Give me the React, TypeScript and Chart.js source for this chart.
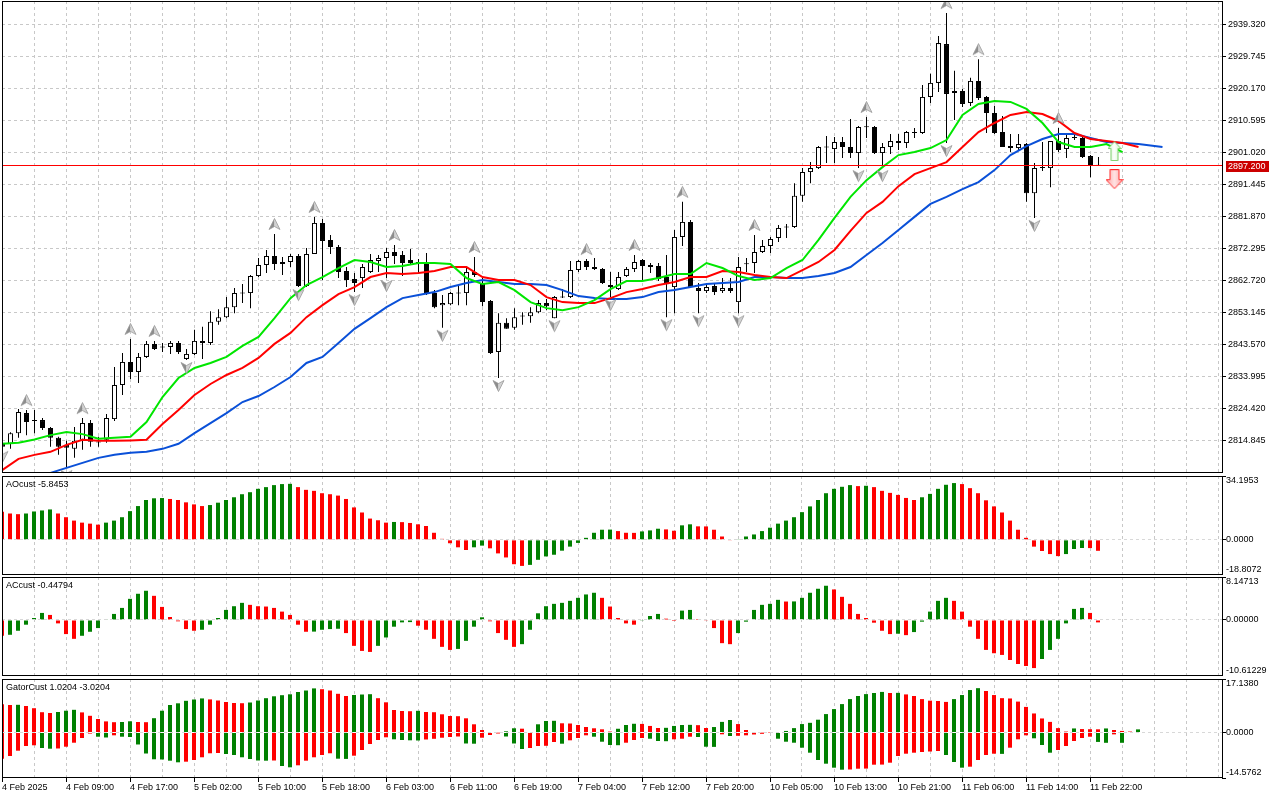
import React, { useEffect, useRef } from "react";
import { Chart, registerables } from "chart.js";

Chart.register(...registerables);

// ---------- price data (hourly bars, index 0 = 4 Feb 01:00) ----------
const openP = [
  2814.3, 2814.0, 2817.2, 2823.2, 2821.1, 2821.1, 2818.7, 2815.8, 2813.7, 2812.5,
  2815.2, 2820.2, 2814.6, 2815.2, 2821.4, 2831.6, 2838.5, 2835.5, 2840.0, 2843.9,
  2843.0, 2843.0, 2844.2, 2839.4, 2840.9, 2844.8, 2844.2, 2850.5, 2851.9, 2854.9,
  2859.1, 2859.1, 2864.2, 2867.5, 2870.2, 2867.8, 2868.4, 2870.2, 2861.2, 2870.8,
  2880.1, 2875.0, 2872.9, 2865.7, 2863.3, 2863.6, 2865.4, 2868.7, 2869.6, 2871.4,
  2870.5, 2869.0, 2868.4, 2867.8, 2859.1, 2855.5, 2855.8, 2859.1, 2859.1, 2865.4,
  2861.8, 2856.7, 2841.5, 2850.2, 2848.7, 2852.1, 2852.2, 2853.4, 2856.1, 2851.6,
  2857.9, 2857.9, 2866.0, 2868.7, 2866.9, 2866.3, 2861.5, 2860.3, 2864.2, 2866.3,
  2869.0, 2867.5, 2867.2, 2863.9, 2860.9, 2875.9, 2880.4, 2860.6, 2859.7, 2861.2,
  2859.7, 2860.6, 2856.4, 2867.7, 2868.1, 2871.4, 2873.2, 2875.6, 2878.7, 2878.9,
  2888.2, 2895.3, 2896.5, 2902.8, 2902.2, 2904.3, 2902.8, 2901.0, 2908.8, 2908.8,
  2901.0, 2902.8, 2904.6, 2904.0, 2907.0, 2907.0, 2917.8, 2922.0, 2933.6, 2919.0,
  2919.6, 2916.0, 2922.6, 2917.8, 2913.0, 2907.3, 2903.1, 2902.5, 2903.7, 2889.0,
  2896.8, 2896.5, 2904.6, 2902.2, 2905.8, 2905.5, 2900.1, 2897.4,
];
const highP = [
  2814.9, 2817.5, 2824.4, 2824.1, 2824.1, 2821.7, 2819.0, 2816.1, 2814.9, 2819.0,
  2821.7, 2821.1, 2816.1, 2822.9, 2837.0, 2841.2, 2845.4, 2841.2, 2844.8, 2844.8,
  2844.2, 2844.8, 2844.8, 2842.4, 2848.1, 2849.0, 2853.7, 2854.3, 2857.9, 2860.6,
  2861.8, 2864.5, 2869.6, 2872.0, 2876.8, 2869.9, 2870.8, 2870.8, 2872.6, 2881.9,
  2881.3, 2876.5, 2873.5, 2866.9, 2865.1, 2867.8, 2870.8, 2870.5, 2872.6, 2873.5,
  2871.7, 2872.3, 2869.3, 2871.1, 2860.0, 2858.5, 2859.4, 2861.5, 2866.9, 2869.9,
  2863.9, 2857.0, 2853.1, 2851.6, 2854.6, 2853.4, 2854.9, 2857.0, 2857.3, 2858.2,
  2860.3, 2868.7, 2869.0, 2869.3, 2869.6, 2866.6, 2865.4, 2865.4, 2866.9, 2870.5,
  2869.3, 2868.1, 2868.1, 2870.5, 2878.0, 2886.4, 2881.0, 2862.1, 2862.1, 2861.8,
  2863.6, 2863.6, 2869.9, 2869.6, 2876.5, 2875.0, 2875.9, 2879.5, 2879.8, 2892.0,
  2896.5, 2898.3, 2903.1, 2906.1, 2905.8, 2905.8, 2911.2, 2909.1, 2911.8, 2909.1,
  2904.0, 2906.7, 2906.7, 2907.6, 2908.5, 2921.4, 2924.7, 2936.0, 2942.9, 2925.6,
  2920.2, 2923.5, 2929.1, 2918.1, 2915.1, 2912.1, 2906.7, 2906.7, 2904.0, 2898.0,
  2904.3, 2904.6, 2908.5, 2906.4, 2907.3, 2905.8, 2900.4, 2899.8,
];
const lowP = [
  2812.5, 2812.5, 2815.8, 2816.6, 2817.2, 2818.1, 2813.1, 2810.7, 2806.8, 2809.8,
  2812.2, 2813.1, 2813.1, 2814.3, 2820.8, 2828.6, 2833.4, 2832.2, 2839.7, 2842.1,
  2841.5, 2840.9, 2840.9, 2839.1, 2840.6, 2839.4, 2843.6, 2849.6, 2851.6, 2853.1,
  2856.1, 2854.6, 2863.9, 2865.1, 2866.0, 2864.5, 2866.9, 2860.9, 2860.9, 2870.8,
  2863.0, 2870.8, 2863.6, 2860.9, 2859.4, 2860.6, 2865.1, 2865.4, 2863.6, 2867.8,
  2864.2, 2867.8, 2864.8, 2858.5, 2854.6, 2848.7, 2855.5, 2855.5, 2855.5, 2863.9,
  2855.2, 2840.9, 2833.7, 2848.4, 2848.1, 2849.6, 2850.2, 2853.1, 2854.0, 2851.6,
  2857.6, 2857.6, 2865.4, 2866.0, 2866.0, 2861.8, 2857.9, 2860.0, 2863.9, 2865.4,
  2863.0, 2865.1, 2862.7, 2851.9, 2853.1, 2873.2, 2860.6, 2853.1, 2859.1, 2858.5,
  2859.1, 2859.1, 2853.1, 2865.4, 2865.1, 2871.1, 2871.1, 2874.4, 2875.6, 2878.6,
  2886.4, 2892.0, 2896.2, 2898.0, 2898.0, 2899.5, 2899.5, 2896.5, 2905.5, 2900.7,
  2896.5, 2900.7, 2901.9, 2902.5, 2905.5, 2906.7, 2916.0, 2919.3, 2904.0, 2910.9,
  2914.8, 2915.1, 2916.9, 2907.0, 2906.7, 2902.8, 2901.3, 2901.9, 2886.4, 2881.6,
  2895.6, 2890.8, 2901.3, 2899.5, 2904.9, 2899.5, 2893.8, 2897.2,
];
const closeP = [
  2813.1, 2817.2, 2823.5, 2820.5, 2820.8, 2818.7, 2815.8, 2813.1, 2812.8, 2814.9,
  2820.2, 2814.6, 2814.4, 2821.7, 2831.6, 2838.5, 2835.5, 2840.0, 2843.9, 2842.4,
  2842.8, 2844.2, 2841.5, 2840.9, 2844.8, 2844.2, 2850.5, 2851.9, 2854.9, 2859.1,
  2859.0, 2864.2, 2867.5, 2870.2, 2867.8, 2868.4, 2870.2, 2861.2, 2870.8, 2880.1,
  2874.7, 2872.9, 2865.4, 2863.0, 2862.1, 2866.9, 2869.0, 2869.6, 2871.4, 2870.2,
  2868.1, 2868.1, 2867.8, 2858.8, 2854.9, 2856.1, 2859.1, 2859.0, 2865.4, 2864.5,
  2856.4, 2841.2, 2850.2, 2848.4, 2851.9, 2852.2, 2853.4, 2856.1, 2855.2, 2857.9,
  2857.8, 2866.0, 2868.7, 2866.9, 2866.3, 2862.1, 2860.9, 2863.9, 2866.3, 2868.4,
  2867.2, 2866.9, 2863.3, 2862.1, 2875.9, 2880.4, 2860.9, 2859.7, 2860.9, 2859.4,
  2860.6, 2859.7, 2866.9, 2867.8, 2871.4, 2873.2, 2875.3, 2878.6, 2878.9, 2888.2,
  2895.3, 2896.5, 2902.8, 2902.7, 2904.3, 2902.8, 2901.0, 2908.8, 2908.7, 2901.0,
  2902.8, 2904.6, 2904.0, 2907.3, 2907.3, 2917.8, 2922.0, 2933.9, 2918.7, 2919.6,
  2915.7, 2922.6, 2917.5, 2913.0, 2907.0, 2902.8, 2902.5, 2903.7, 2889.0, 2896.5,
  2896.5, 2904.6, 2901.9, 2905.5, 2905.5, 2899.8, 2897.1, 2897.2,
];

// ---------- Alligator lines (sampled every 2 bars) ----------
const lineStep = 2;
const lipsStart = 0;
const lipsP = [
  2814.0, 2814.3, 2815.3, 2816.6, 2817.5, 2816.9, 2815.5, 2815.8, 2816.1, 2820.5,
  2828.0, 2833.7, 2836.7, 2838.2, 2840.0, 2843.3, 2846.0, 2851.6, 2857.6, 2861.5,
  2863.9, 2866.6, 2869.0, 2868.4, 2866.9, 2867.2, 2868.1, 2868.1, 2867.8, 2863.6,
  2861.8, 2862.4, 2860.0, 2856.4, 2854.6, 2854.0, 2854.9, 2857.0, 2860.3, 2862.7,
  2862.7, 2863.6, 2864.8, 2864.8, 2868.1, 2866.6, 2864.2, 2863.0, 2863.6, 2866.6,
  2869.0, 2875.0, 2881.6, 2887.9, 2892.9, 2896.8, 2900.4, 2901.3, 2902.5, 2904.9,
  2912.4, 2915.7, 2916.6, 2916.3, 2914.2, 2910.0, 2904.3, 2902.8, 2902.8, 2903.7,
  2901.3,
];
const teethStart = 0;
const teethP = [
  2806.2, 2809.5, 2810.7, 2811.6, 2813.7, 2815.2, 2814.9, 2814.9, 2815.0, 2815.2,
  2819.9, 2824.1, 2828.6, 2831.9, 2834.6, 2836.7, 2839.7, 2843.9, 2847.2, 2851.9,
  2855.5, 2858.8, 2860.9, 2863.9, 2865.1, 2864.8, 2865.1, 2865.7, 2866.9, 2866.9,
  2863.9, 2863.0, 2863.0, 2861.5, 2857.9, 2856.4, 2856.1, 2856.1, 2857.6, 2859.4,
  2860.3, 2861.5, 2862.4, 2863.9, 2863.9, 2865.7, 2865.4, 2864.5, 2863.9, 2863.6,
  2866.0, 2868.4, 2872.0, 2877.7, 2883.1, 2886.4, 2891.1, 2894.7, 2896.5, 2898.3,
  2902.8, 2907.3, 2910.0, 2912.4, 2913.3, 2912.7, 2910.6, 2907.0, 2905.2, 2904.6,
  2904.0, 2902.8,
];
const jawStart = 4;
const jawP = [
  2803.8, 2805.3, 2806.8, 2808.3, 2809.8, 2810.7, 2811.3, 2811.6, 2812.5, 2814.0,
  2817.2, 2820.2, 2823.2, 2826.5, 2828.3, 2831.0, 2834.0, 2838.2, 2840.0, 2844.2,
  2848.4, 2851.6, 2854.9, 2857.6, 2858.5, 2859.4, 2860.9, 2862.1, 2863.0, 2862.4,
  2861.8, 2861.8, 2861.5, 2860.0, 2858.2, 2857.6, 2857.3, 2857.3, 2857.9, 2859.4,
  2860.0, 2860.9, 2861.8, 2862.1, 2862.4, 2863.9, 2863.9, 2863.6, 2863.6, 2864.2,
  2865.1, 2866.9, 2870.5, 2874.1, 2878.0, 2881.9, 2885.8, 2887.9, 2890.2, 2892.3,
  2895.9, 2900.4, 2903.1, 2905.2, 2906.7, 2906.7, 2905.5, 2904.3, 2904.0, 2903.7,
  2903.1,
];
const jawLastBar = 145;
const jawLast = 2902.8;

// ---------- fractals & signals ----------
const fractalUpBars = [3, 10, 16, 19, 34, 39, 49, 59, 73, 79, 85, 94, 108, 118, 122, 132];
const fractalDownBars = [0, 8, 23, 37, 44, 48, 55, 62, 69, 76, 83, 87, 92, 107, 110, 118, 129];
const signalBar = 139;
const signalUpPrice = 2901.6;
const signalDownPrice = 2893.2;
const bidPrice = 2897.2;
const bidText = "2897.200";

// ---------- axes ----------
const priceTicks = [
  2814.845, 2824.42, 2833.995, 2843.57, 2853.145, 2862.72, 2872.295,
  2881.87, 2891.445, 2901.02, 2910.595, 2920.17, 2929.745, 2939.32,
];
const priceMin = 2805.27;
const priceMax = 2946.5;
const timeLabels = [
  "4 Feb 2025", "4 Feb 09:00", "4 Feb 17:00", "5 Feb 02:00", "5 Feb 10:00", "5 Feb 18:00",
  "6 Feb 03:00", "6 Feb 11:00", "6 Feb 19:00", "7 Feb 04:00", "7 Feb 12:00", "7 Feb 20:00",
  "10 Feb 05:00", "10 Feb 13:00", "10 Feb 21:00", "11 Feb 06:00", "11 Feb 14:00", "11 Feb 22:00",
];
const timeLabelBars = [0, 8, 16, 24, 32, 40, 48, 56, 64, 72, 80, 88, 96, 104, 112, 120, 128, 136];

// ---------- AO ----------
const aoTitle = "AOcust -5.8453";
const aoScale = [-18.8072, 0, 34.1953];
const aoScaleLabels = ["-18.8072", "0.0000", "34.1953"];
const aoValues = [
  15.02, 14.12, 13.76, 14.12, 15.2, 15.75, 16.29, 14.12, 12.13, 10.32,
  9.23, 8.69, 8.15, 9.23, 10.32, 12.13, 15.39, 18.1, 21.36, 22.26,
  22.4, 21.9, 21.36, 20.09, 19.0, 18.1, 18.64, 19.91, 21.36, 22.81,
  24.44, 25.52, 27.33, 28.24, 29.32, 29.87, 30.0, 28.24, 26.79, 26.25,
  24.98, 24.44, 23.71, 21.9, 17.38, 14.66, 11.4, 10.5, 9.23, 9.59,
  9.5, 9.05, 8.33, 7.42, 3.8, 0.54, -1.81, -3.98, -5.43, -3.98,
  -3.08, -4.53, -7.24, -9.41, -13.03, -13.94, -13.39, -10.68, -8.87, -7.96,
  -5.79, -3.62, -1.63, 1.09, 3.8, 5.43, 5.5, 4.71, 3.8, 3.75,
  4.53, 5.07, 5.97, 5.61, 4.89, 7.78, 8.33, 7.24, 7.2, 5.43,
  1.81, -0.2, 0.36, 1.81, 2.9, 4.71, 6.52, 8.69, 10.32, 12.13,
  14.84, 17.92, 21.36, 24.98, 27.33, 28.42, 29.32, 28.78, 28.96, 28.24,
  26.25, 25.16, 24.07, 22.45, 21.36, 22.81, 24.62, 27.33, 29.5, 30.41,
  29.87, 27.69, 24.98, 21.18, 17.92, 14.66, 10.32, 5.43, 1.09, -3.62,
  -5.97, -7.6, -8.69, -7.6, -4.89, -4.34, -4.4, -5.85,
];
const aoColors =
  "rrrggggrrr" + "rrrggggggg" + "grrrrrgggg" + "gggggggrrr" + "rrrrrrrrrg" +
  "rrrrrrrrrg" + "grrrrrgggg" + "gggggggrrr" + "gggrrggrrr" + "rrgggggggg" +
  "gggggggrgr" + "rrrrrggggg" + "rrrrrrrrrr" + "rrrgggrr";

// ---------- AC ----------
const acTitle = "ACcust -0.44794";
const acScale = [-10.61229, 0, 8.14713];
const acScaleLabels = ["-10.61229", "0.00000", "8.14713"];
const acValues = [
  -2.99, -2.8, -2.04, -0.89, 0.38, 1.34, 0.96, -0.64, -2.67, -3.57,
  -2.99, -2.23, -1.53, 0.06, 1.15, 2.29, 4.01, 4.97, 5.54, 4.58,
  2.48, 0.57, -0.25, -1.72, -2.04, -1.85, -0.89, 0.38, 1.91, 2.61,
  3.25, 2.87, 2.61, 2.55, 2.29, 1.59, 0.96, -0.89, -2.23, -2.2,
  -1.85, -1.72, -1.66, -2.48, -4.9, -5.86, -6.05, -4.9, -3.31, -1.27,
  -0.45, -0.4, -1.08, -1.85, -3.57, -5.09, -5.67, -5.48, -3.95, -1.27,
  0.51, -0.25, -2.48, -3.76, -5.09, -4.58, -1.85, 1.27, 2.61, 3.06,
  3.25, 3.63, 4.2, 4.84, 5.16, 4.2, 2.55, 0.38, -0.64, -0.89,
  -0.13, 0.76, 1.15, 0.25, -0.19, 1.78, 1.91, 0.19, -0.13, -1.53,
  -4.39, -4.58, -2.48, -0.32, 1.91, 2.87, 3.06, 3.82, 3.5, 3.52,
  4.2, 5.16, 5.92, 6.49, 5.79, 4.39, 3.06, 1.15, 0.38, -0.51,
  -2.04, -2.67, -2.6, -2.87, -2.29, -0.32, 1.59, 3.63, 4.2, 3.63,
  1.59, -1.27, -3.57, -5.67, -6.3, -6.62, -7.58, -8.34, -8.72, -9.11,
  -7.39, -5.67, -3.57, -0.64, 2.1, 2.29, 1.34, -0.45,
];
const acColors =
  "rgggggrrrr" + "gggggggggr" + "rrrrrggggg" + "grrrrrrrrg" + "gggrrrrggg" +
  "ggrrrrrggg" + "grrrrggggg" + "gggggrrrrr" + "gggrrggrrr" + "rrggggggrg" +
  "ggggrrrrrr" + "rrgrgggggr" + "rrrrrrrrrr" + "ggggggrr";

// ---------- Gator ----------
const gatorTitle = "GatorCust 1.0204 -3.0204";
const gatorScale = [-14.5762, 0, 17.138];
const gatorScaleLabels = ["-14.5762", "0.0000", "17.1380"];
const gatorUpper = [
  9.06, 8.81, 8.87, 8.49, 7.78, 6.5, 6.25, 6.57, 6.98, 7.27,
  6.44, 5.35, 4.32, 3.56, 3.3, 3.36, 3.59, 3.36, 3.3, 4.58,
  6.98, 8.81, 9.35, 10.15, 10.57, 10.92, 10.6, 10.25, 9.77, 9.45,
  9.38, 9.61, 10.25, 10.99, 11.6, 11.95, 12.24, 12.97, 13.45, 14.13,
  13.87, 13.45, 12.4, 11.69, 12.01, 12.17, 12.27, 10.99, 9.67, 7.21,
  6.89, 6.82, 6.95, 6.57, 6.5, 5.83, 5.29, 5.22, 4.55, 2.63,
  0.8, 0.16, 0.06, 0.38, 1.35, 1.22, 0.16, 2.63, 3.68, 3.75,
  2.95, 2.88, 2.4, 1.76, 1.35, 1.02, 0.3, 1.2, 2.4, 2.8,
  2.75, 2.1, 1.45, 1.5, 2.1, 2.4, 2.45, 2.35, 1.45, 1.75,
  3.4, 4.0, 2.7, 0.8, 0.1, 0.05, 0.02, 0.0, 0.5, 1.4,
  2.7, 3.1, 4.1, 5.9, 7.5, 9.1, 10.7, 11.7, 12.3, 12.65,
  13.0, 12.65, 12.7, 12.2, 11.7, 10.7, 10.2, 10.1, 9.8, 10.7,
  12.0, 13.6, 14.2, 13.3, 12.0, 11.0, 10.9, 9.9, 8.2, 6.1,
  4.5, 3.4, 1.4, 0.3, 1.3, 1.1, 1.05, 1.02, 1.3, 0.8,
  0.5, 0.3, 1.0,
];
const gatorUpperColors =
  "rrgrrrrggg" + "rrrrrggrrg" + "ggggggrrrr" + "rggggggggg" + "rrrrgggrrr" +
  "rrgrrrrrrr" + "rrrggrrggg" + "rrrrrrrggg" + "rrrggggrrg" + "ggrrrrrrgg" +
  "gggggggggg" + "grgrrrrrrg" + "gggrrrrrrr" + "rrrrgrrrgr" + "rrg";
const gatorLower = [
  -8.39, -7.53, -5.83, -4.32, -4.1, -4.96, -5.19, -5.12, -4.55, -3.27,
  -1.76, -0.35, -1.35, -1.6, -0.9, -1.35, -1.44, -3.84, -6.73, -8.58,
  -8.65, -9.03, -9.55, -9.35, -8.81, -7.94, -6.66, -6.57, -6.89, -7.21,
  -7.94, -8.49, -8.97, -9.03, -8.97, -10.73, -11.15, -10.51, -9.03, -7.94,
  -7.21, -6.66, -8.39, -8.46, -7.43, -5.61, -3.68, -2.4, -1.54, -2.18,
  -2.4, -2.5, -2.56, -2.24, -2.02, -1.67, -1.44, -1.28, -3.52, -3.59,
  -1.67, -0.8, -0.32, -1.28, -3.52, -5.28, -4.96, -4.32, -4.26, -3.04,
  -3.59, -2.5, -1.76, -0.9, -1.35, -2.95, -4.0, -4.07, -3.27, -2.4,
  -1.76, -1.99, -2.72, -2.79, -2.18, -1.99, -1.35, -1.44, -4.55, -4.61,
  -0.58, -1.12, -1.06, -0.9, -0.64, -0.42, -0.16, -1.99, -2.95, -3.27,
  -4.87, -6.47, -8.81, -9.99, -11.27, -11.92, -11.85, -11.6, -11.56, -10.31,
  -10.28, -9.67, -7.53, -6.79, -6.47, -6.25, -6.09, -5.93, -7.21, -9.45,
  -11.27, -10.95, -8.81, -7.21, -6.79, -6.85, -4.87, -2.18, -0.9, -1.86,
  -4.0, -6.47, -5.61, -4.32, -2.72, -1.76, -1.35, -3.02, -3.3, -0.6,
  -3.3,
];
const gatorLowerColors =
  "rrrrrggrrr" + "rrggrggggg" + "gggrrrrrgg" + "ggggrggrrr" + "rrggrrrrrg" +
  "gggrrrrrgg" + "rrrgggrrrr" + "grrrggggrr" + "rgggrrrggg" + "rgrrrrrggg" +
  "ggggggrrrr" + "rrrrrrrrgg" + "grrrrgrrrg" + "ggrrrrrggr" + "g";

// ---------- style ----------
const FONT = '"Liberation Sans", Arial, sans-serif';
const FONT_SIZE = 9;
const AXIS_W = 58;
const PLOT_BARS = 152.5; // visible bar slots across the plot width
const GRID_STEP = 4;
const GRID_COLOR = "#c8c8c8";
const LEVEL_COLOR = "#d8d8d8";
const H_GREEN = "#008000";
const H_RED = "#ff0000";
const LIPS_COLOR = "#00e600";
const TEETH_COLOR = "#ff0000";
const JAW_COLOR = "#0a50d8";
const BID_COLOR = "#ff0000";
const BID_BOX = "#cc0000";

const hist = (s: string) => s.split("").map((c) => (c === "g" ? H_GREEN : H_RED));
const series = (vals: number[], start: number, step: number) =>
  vals.map((v, i) => ({ x: start + i * step, y: v }));

function fractalImage(up: boolean): HTMLCanvasElement {
  const c = document.createElement("canvas");
  c.width = 13;
  c.height = 40;
  const g = c.getContext("2d") as CanvasRenderingContext2D;
  g.translate(6.5, up ? 10 : 28);
  if (!up) g.scale(1, -1);
  g.beginPath();
  g.moveTo(0, -5.5);
  g.lineTo(5.5, 5.5);
  g.lineTo(0, 2.5);
  g.lineTo(-5.5, 5.5);
  g.closePath();
  g.save();
  g.clip();
  g.fillStyle = "#8c8c8c";
  g.fillRect(-6, -6, 6, 12);
  g.fillStyle = "#d2d2d2";
  g.fillRect(0, -6, 6, 12);
  g.restore();
  g.lineWidth = 0.8;
  g.strokeStyle = "#9a9a9a";
  g.stroke();
  return c;
}

function signalImage(up: boolean): HTMLCanvasElement {
  const c = document.createElement("canvas");
  const w = up ? 14 : 18;
  const h = 20;
  c.width = w;
  c.height = h;
  const g = c.getContext("2d") as CanvasRenderingContext2D;
  g.beginPath();
  if (up) {
    g.moveTo(7, 0.5);
    g.lineTo(13.5, 7.5);
    g.lineTo(10.5, 7.5);
    g.lineTo(10.5, 19.5);
    g.lineTo(3.5, 19.5);
    g.lineTo(3.5, 7.5);
    g.lineTo(0.5, 7.5);
    g.closePath();
    const gr = g.createLinearGradient(0, 0, w, 0);
    gr.addColorStop(0, "#d4f3cc");
    gr.addColorStop(0.5, "#ffffff");
    gr.addColorStop(1, "#c6efbd");
    g.fillStyle = gr;
    g.fill();
    g.strokeStyle = "#7ccf6c";
  } else {
    g.moveTo(4.5, 0.5);
    g.lineTo(13.5, 0.5);
    g.lineTo(13.5, 10.5);
    g.lineTo(17.5, 10.5);
    g.lineTo(9, 19.5);
    g.lineTo(0.5, 10.5);
    g.lineTo(4.5, 10.5);
    g.closePath();
    const gr = g.createLinearGradient(0, 0, w, 0);
    gr.addColorStop(0, "#ff9c9c");
    gr.addColorStop(0.5, "#ffe4e4");
    gr.addColorStop(1, "#ff9c9c");
    g.fillStyle = gr;
    g.fill();
    g.strokeStyle = "#ff2a2a";
  }
  g.lineWidth = 1;
  g.stroke();
  return c;
}

type Side = { value: number; text: string; edge: "top" | "mid" | "bottom" };
type PanelCfg = {
  hGrid: number[];
  levels?: number[];
  title?: string;
  side?: Side[];
  bid?: number;
  bidLabel?: string;
};

function clipArea(ctx: CanvasRenderingContext2D, a: any) {
  ctx.beginPath();
  ctx.rect(a.left, a.top, a.right - a.left, a.bottom - a.top);
  ctx.clip();
}

function panelPlugin(cfg: PanelCfg) {
  return {
    id: "mtPanel",
    beforeDatasetsDraw(chart: any) {
      const { ctx, chartArea: a } = chart;
      const xs = chart.scales.x;
      const ys = chart.scales.y;
      ctx.save();
      clipArea(ctx, a);
      ctx.lineWidth = 1;
      ctx.strokeStyle = GRID_COLOR;
      ctx.setLineDash([3, 3]);
      ctx.beginPath();
      for (let k = 0; k <= xs.max; k += GRID_STEP) {
        const px = Math.floor(xs.getPixelForValue(k)) + 0.5;
        ctx.moveTo(px, a.top);
        ctx.lineTo(px, a.bottom);
      }
      for (const v of cfg.hGrid) {
        const py = Math.floor(ys.getPixelForValue(v)) + 0.5;
        ctx.moveTo(a.left, py);
        ctx.lineTo(a.right, py);
      }
      ctx.stroke();
      ctx.restore();
    },
    afterDatasetsDraw(chart: any) {
      const { ctx, chartArea: a } = chart;
      const ys = chart.scales.y;
      ctx.save();
      clipArea(ctx, a);
      ctx.lineWidth = 1;
      if (cfg.levels && cfg.levels.length) {
        ctx.strokeStyle = LEVEL_COLOR;
        ctx.setLineDash([3, 3]);
        ctx.beginPath();
        for (const v of cfg.levels) {
          const py = Math.floor(ys.getPixelForValue(v)) + 0.5;
          ctx.moveTo(a.left, py);
          ctx.lineTo(a.right, py);
        }
        ctx.stroke();
      }
      if (cfg.bid !== undefined) {
        ctx.setLineDash([]);
        ctx.strokeStyle = BID_COLOR;
        const py = Math.floor(ys.getPixelForValue(cfg.bid)) + 0.5;
        ctx.beginPath();
        ctx.moveTo(a.left, py);
        ctx.lineTo(a.right, py);
        ctx.stroke();
      }
      ctx.restore();
      ctx.save();
      ctx.strokeStyle = "#000000";
      ctx.lineWidth = 1;
      ctx.setLineDash([]);
      ctx.strokeRect(a.left + 0.5, a.top + 0.5, a.right - a.left, a.bottom - a.top - 1);
      ctx.restore();
    },
    afterDraw(chart: any) {
      const { ctx, chartArea: a } = chart;
      const ys = chart.scales.y;
      ctx.save();
      ctx.font = `${FONT_SIZE}px ${FONT}`;
      ctx.fillStyle = "#000";
      ctx.textBaseline = "middle";
      ctx.textAlign = "left";
      if (cfg.title) ctx.fillText(cfg.title, a.left + 4, a.top + 9);
      if (cfg.side) {
        for (const s of cfg.side) {
          let y = ys.getPixelForValue(s.value);
          if (s.edge === "top") y = a.top + 5;
          if (s.edge === "bottom") y = a.bottom - 5;
          ctx.fillText(s.text, a.right + 4, y);
        }
      }
      if (cfg.bid !== undefined && cfg.bidLabel) {
        const y = Math.round(ys.getPixelForValue(cfg.bid));
        ctx.fillStyle = BID_BOX;
        ctx.fillRect(a.right + 4, y - 5, 43, 11);
        ctx.fillStyle = "#fff";
        ctx.fillText(cfg.bidLabel, a.right + 6, y + 0.5);
      }
      ctx.restore();
    },
  };
}

const yAxisFit = (s: any) => {
  s.width = AXIS_W;
  s.paddingTop = 0;
  s.paddingBottom = 0;
};

function indicatorY(scale: number[]) {
  return {
    type: "linear",
    position: "right",
    min: scale[0],
    max: scale[2],
    beginAtZero: false,
    afterFit: yAxisFit,
    afterBuildTicks: (s: any) => {
      s.ticks = scale.map((v) => ({ value: v }));
    },
    ticks: { display: false },
    grid: { drawOnChartArea: false, drawTicks: true, tickLength: 4, tickColor: "#000" },
    border: { display: false },
  };
}

const hiddenX = (min: number) => ({
  type: "linear",
  min,
  max: min + PLOT_BARS,
  offset: false,
  display: false,
  grid: { offset: false },
});

const baseOptions = {
  responsive: false,
  animation: false,
  devicePixelRatio: 1,
  events: [],
  layout: { padding: 0, autoPadding: false },
  plugins: { legend: { display: false }, tooltip: { enabled: false } },
};

function sideLabels(scale: number[], labels: string[]): Side[] {
  return [
    { value: scale[0], text: labels[0], edge: "bottom" },
    { value: scale[1], text: labels[1], edge: "mid" },
    { value: scale[2], text: labels[2], edge: "top" },
  ];
}

function histDataset(values: number[], colors: string) {
  return {
    type: "bar",
    data: values.map((v, i) => ({ x: i, y: v })),
    backgroundColor: hist(colors),
    borderWidth: 0,
    barThickness: 4,
    grouped: false,
    inflateAmount: 0,
  };
}

export default function App() {
  const priceRef = useRef<HTMLCanvasElement>(null);
  const aoRef = useRef<HTMLCanvasElement>(null);
  const acRef = useRef<HTMLCanvasElement>(null);
  const gatorRef = useRef<HTMLCanvasElement>(null);

  useEffect(() => {
    Chart.defaults.font.family = FONT;
    Chart.defaults.font.size = FONT_SIZE;
    Chart.defaults.color = "#000";
    const charts: any[] = [];

    const upImg = fractalImage(true);
    const downImg = fractalImage(false);
    const sigUp = signalImage(true);
    const sigDown = signalImage(false);

    const bodies = openP.map((o, i) => ({ x: i, y: [o, closeP[i]] }));
    const bodyColors = openP.map((o, i) => (closeP[i] > o ? "#ffffff" : "#000000"));
    const wicks = openP.map((_, i) => ({ x: i, y: [lowP[i], highP[i]] }));

    const lineDs = (data: any[], color: string, order: number) => ({
      type: "line",
      data,
      borderColor: color,
      borderWidth: 2,
      pointRadius: 0,
      tension: 0,
      clip: 0,
      order,
    });
    const pointDs = (data: any[], img: HTMLCanvasElement) => ({
      type: "scatter",
      data,
      pointStyle: img,
      pointRadius: 6,
      order: 0,
    });

    const priceCfg: any = {
      type: "bar",
      data: {
        datasets: [
          lineDs(series(lipsP, lipsStart, lineStep), LIPS_COLOR, 1),
          lineDs(series(teethP, teethStart, lineStep), TEETH_COLOR, 2),
          lineDs([...series(jawP, jawStart, lineStep), { x: jawLastBar, y: jawLast }], JAW_COLOR, 3),
          pointDs(fractalUpBars.map((k) => ({ x: k, y: highP[k] })), upImg),
          pointDs(fractalDownBars.map((k) => ({ x: k, y: lowP[k] })), downImg),
          pointDs([{ x: signalBar, y: signalUpPrice }], sigUp),
          pointDs([{ x: signalBar, y: signalDownPrice }], sigDown),
          {
            type: "bar",
            data: bodies,
            backgroundColor: bodyColors,
            borderColor: "#000",
            borderWidth: 1,
            borderSkipped: false,
            barThickness: 5,
            minBarLength: 1,
            grouped: false,
            inflateAmount: 0,
            order: 5,
          },
          {
            type: "bar",
            data: wicks,
            backgroundColor: "#000",
            borderWidth: 0,
            barThickness: 1,
            grouped: false,
            inflateAmount: 0,
            order: 6,
          },
        ],
      },
      options: {
        ...baseOptions,
        scales: {
          x: hiddenX(-0.0625),
          y: {
            type: "linear",
            position: "right",
            min: priceMin,
            max: priceMax,
            beginAtZero: false,
            afterFit: yAxisFit,
            afterBuildTicks: (s: any) => {
              s.ticks = priceTicks.map((v) => ({ value: v }));
            },
            ticks: {
              autoSkip: false,
              padding: 2,
              color: "#000",
              callback: (v: any) => Number(v).toFixed(3),
            },
            grid: { drawOnChartArea: false, drawTicks: true, tickLength: 4, tickColor: "#000" },
            border: { display: false },
          },
        },
      },
      plugins: [panelPlugin({ hGrid: priceTicks, bid: bidPrice, bidLabel: bidText })],
    };
    charts.push(new Chart(priceRef.current as HTMLCanvasElement, priceCfg));

    const aoCfg: any = {
      type: "bar",
      data: { datasets: [histDataset(aoValues, aoColors)] },
      options: { ...baseOptions, scales: { x: hiddenX(0), y: indicatorY(aoScale) } },
      plugins: [
        panelPlugin({ hGrid: [], levels: [0], title: aoTitle, side: sideLabels(aoScale, aoScaleLabels) }),
      ],
    };
    charts.push(new Chart(aoRef.current as HTMLCanvasElement, aoCfg));

    const acCfg: any = {
      type: "bar",
      data: { datasets: [histDataset(acValues, acColors)] },
      options: { ...baseOptions, scales: { x: hiddenX(0), y: indicatorY(acScale) } },
      plugins: [
        panelPlugin({ hGrid: [], levels: [0], title: acTitle, side: sideLabels(acScale, acScaleLabels) }),
      ],
    };
    charts.push(new Chart(acRef.current as HTMLCanvasElement, acCfg));

    const gatorCfg: any = {
      type: "bar",
      data: {
        datasets: [histDataset(gatorUpper, gatorUpperColors), histDataset(gatorLower, gatorLowerColors)],
      },
      options: {
        ...baseOptions,
        scales: {
          x: {
            type: "linear",
            min: 0,
            max: PLOT_BARS,
            offset: false,
            position: "bottom",
            afterBuildTicks: (s: any) => {
              s.ticks = timeLabelBars.map((v) => ({ value: v }));
            },
            afterFit: (s: any) => {
              s.height = 22;
              s.paddingLeft = 0;
              s.paddingRight = 0;
            },
            ticks: {
              autoSkip: false,
              maxRotation: 0,
              minRotation: 0,
              align: "start",
              padding: 0,
              color: "#000",
              callback: (_v: any, i: number) => timeLabels[i],
            },
            grid: { drawOnChartArea: false, offset: false, drawTicks: true, tickLength: 4, tickColor: "#000" },
            border: { display: false },
          },
          y: indicatorY(gatorScale),
        },
      },
      plugins: [
        panelPlugin({
          hGrid: [],
          levels: [0],
          title: gatorTitle,
          side: sideLabels(gatorScale, gatorScaleLabels),
        }),
      ],
    };
    charts.push(new Chart(gatorRef.current as HTMLCanvasElement, gatorCfg));

    return () => {
      charts.forEach((c) => c.destroy());
    };
  }, []);

  const cv = (top: number, h: number) => ({
    position: "absolute" as const,
    left: 2,
    top,
    width: 1278,
    height: h,
    display: "block",
  });

  return (
    <div
      style={{
        position: "fixed",
        left: 0,
        top: 0,
        width: 1280,
        height: 800,
        background: "#ffffff",
        overflow: "hidden",
      }}
    >
      <canvas ref={priceRef} width={1278} height={472} style={cv(1, 472)} />
      <canvas ref={aoRef} width={1278} height={99} style={cv(476, 99)} />
      <canvas ref={acRef} width={1278} height={99} style={cv(577, 99)} />
      <canvas ref={gatorRef} width={1278} height={121} style={cv(679, 121)} />
    </div>
  );
}
